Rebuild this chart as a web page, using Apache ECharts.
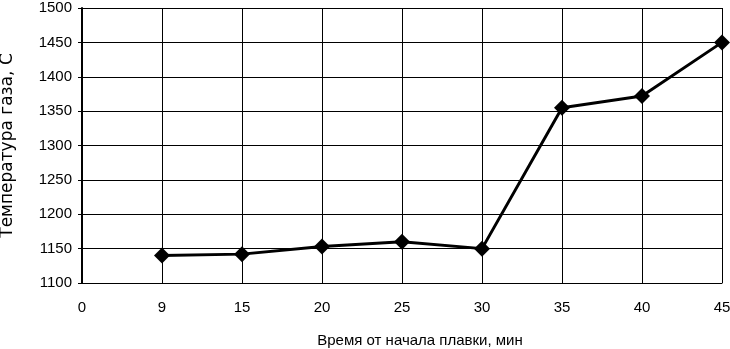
<!DOCTYPE html>
<html>
<head>
<meta charset="utf-8">
<script src="https://cdn.jsdelivr.net/npm/echarts@6/dist/echarts.min.js"></script>
<style>html,body{margin:0;padding:0;background:#fff;}#c{width:730px;height:349px;}</style>
</head>
<body>
<div id="c"></div>
<script>
const categories = ['0', '9', '15', '20', '25', '30', '35', '40', '45'];
const temperatures = [null, 1140, 1142, 1153, 1160, 1150, 1355, 1372, 1450];
const xTitle = 'Время от начала плавки, мин';
const yTitle = 'Температура газа, С';

const chart = echarts.init(document.getElementById('c'));
const font = 'Liberation Sans, Arial, sans-serif';
chart.setOption({
  animation: false,
  backgroundColor: '#fff',
  grid: { left: 82, right: 8, top: 8, bottom: 66, containLabel: false, outerBoundsMode: 'none' },
  xAxis: {
    type: 'category',
    data: categories,
    boundaryGap: false,
    name: xTitle,
    nameLocation: 'middle',
    nameGap: 50,
    nameTextStyle: { color: '#000', fontSize: 15, fontFamily: font, padding: [0, 0, 0, 36] },
    axisLine: { lineStyle: { color: '#000', width: 1 } },
    axisTick: { show: false },
    axisLabel: { color: '#000', fontSize: 15, fontFamily: font, margin: 17 },
    splitLine: { show: true, lineStyle: { color: '#000', width: 1 } }
  },
  yAxis: {
    type: 'value',
    min: 1100,
    max: 1500,
    interval: 50,
    name: yTitle,
    nameLocation: 'middle',
    nameGap: 66,
    nameRotate: 90,
    nameTextStyle: { color: '#000', fontSize: 17, fontFamily: 'DejaVu Sans, sans-serif' },
    axisLine: { show: true, lineStyle: { color: '#000', width: 2 } },
    axisTick: { show: true, length: 4, lineStyle: { color: '#000' } },
    axisLabel: { color: '#000', fontSize: 15, fontFamily: font, margin: 10, formatter: function (v) { return String(v); } },
    splitLine: { show: true, lineStyle: { color: '#000', width: 1 } }
  },
  series: [{
    type: 'line',
    data: temperatures,
    symbol: 'diamond',
    symbolSize: 16,
    itemStyle: { color: '#000' },
    lineStyle: { color: '#000', width: 3 },
    connectNulls: false
  }]
});
</script>
</body>
</html>
